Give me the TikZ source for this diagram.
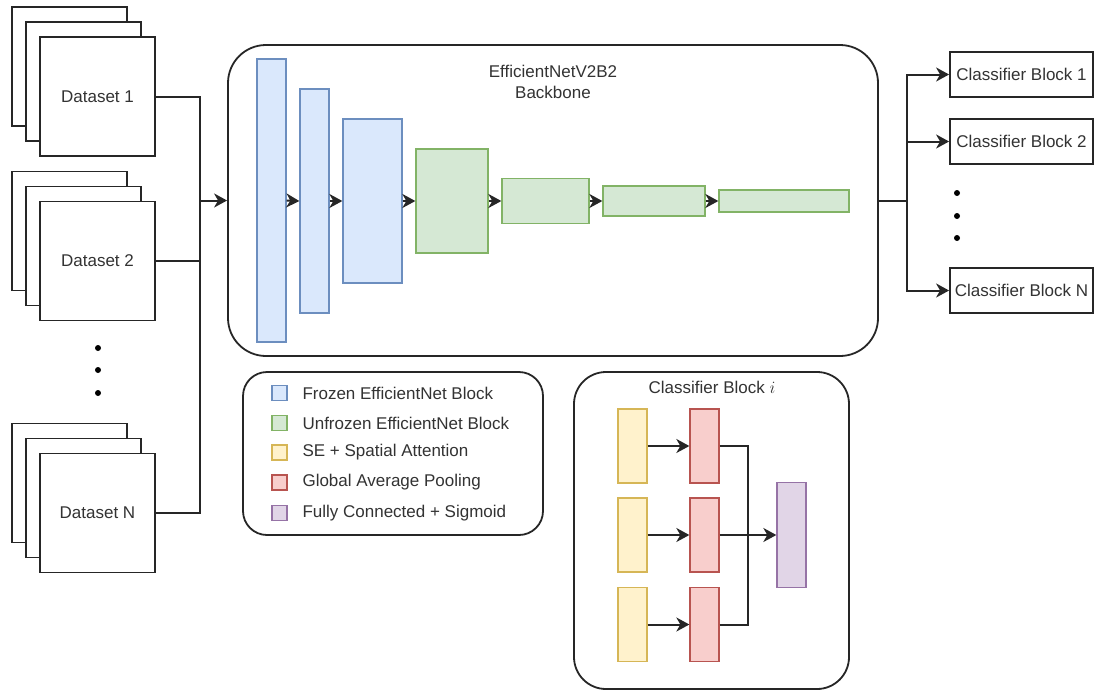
\documentclass[tikz,border=0pt]{standalone}
\usepackage{fontspec}
\setmainfont{Liberation Sans}
\usetikzlibrary{arrows.meta}
\definecolor{ink}{HTML}{262626}
\definecolor{txt}{HTML}{333333}
\definecolor{blueF}{HTML}{DAE8FC}\definecolor{blueD}{HTML}{6C8EBF}
\definecolor{greenF}{HTML}{D5E8D4}\definecolor{greenD}{HTML}{82B366}
\definecolor{yelF}{HTML}{FFF2CC}\definecolor{yelD}{HTML}{D6B656}
\definecolor{redF}{HTML}{F8CECC}\definecolor{redD}{HTML}{B85450}
\definecolor{purF}{HTML}{E1D5E7}\definecolor{purD}{HTML}{9673A6}
\tikzset{
  lbl/.style={text=txt, font=\fontsize{17}{21}\selectfont},
  plain/.style={draw=ink, line width=1.8pt, fill=white, inner sep=0pt, lbl},
  panel/.style={draw=ink, line width=1.8pt, fill=white, inner sep=0pt},
  blk/.style={line width=1.3pt, inner sep=0pt},
  frozen/.style={blk, draw=blueD, fill=blueF},
  unfrozen/.style={blk, draw=greenD, fill=greenF},
  attn/.style={blk, draw=yelD, fill=yelF},
  gap/.style={blk, draw=redD, fill=redF},
  fcs/.style={blk, draw=purD, fill=purF},
  wire/.style={draw=ink, line width=2pt},
  arr/.style={wire, -{Stealth[length=13pt, width=14pt, inset=4pt]}},
  swatch/.style={minimum width=15pt, minimum height=15pt},
  dot/.style={fill=black, circle, inner sep=0pt, minimum size=6pt},
}
% stack of three sheets; the front sheet carries the name and label
\newcommand{\datastack}[3]{%
  \node[plain, minimum width=115pt, minimum height=119pt] at (69.5,#2-30) {};
  \node[plain, minimum width=115pt, minimum height=119pt] at (83.5,#2-15) {};
  \node[plain, minimum width=115pt, minimum height=119pt] (#1) at (97.5,#2) {#3};
}
\begin{document}
\begin{tikzpicture}[x=1pt, y=-1pt]
\useasboundingbox (0,0) rectangle (1094,691);

% input datasets
\datastack{d1}{96.5}{Dataset 1}
\datastack{d2}{261}{Dataset 2}
\datastack{dN}{513}{Dataset N}
\node[dot] (ld1) at (98,348) {};
\node[dot] (ld2) at (98,370) {};
\node[dot] (ld3) at (98,393) {};

% backbone
\node[panel, rounded corners=38pt, minimum width=650pt, minimum height=311pt] (bb) at (553,200.5) {};
\node[lbl, align=center] (bbt) at (553,82) {EfficientNetV2B2\\Backbone};
\node[frozen, minimum width=29pt, minimum height=283pt] (b1) at (271.5,200.5) {};
\node[frozen, minimum width=29pt, minimum height=224pt] (b2) at (314.5,201) {};
\node[frozen, minimum width=59pt, minimum height=164pt] (b3) at (372.5,201) {};
\node[unfrozen, minimum width=72pt, minimum height=104pt] (g1) at (452,201) {};
\node[unfrozen, minimum width=87pt, minimum height=45pt] (g2) at (545.5,201) {};
\node[unfrozen, minimum width=102pt, minimum height=30pt] (g3) at (654,201) {};
\node[unfrozen, minimum width=130pt, minimum height=22pt] (g4) at (784,201) {};
\draw[arr] (b1.east) -- (b2.west);
\draw[arr] (b2.east) -- (b3.west);
\draw[arr] (b3.east) -- (g1.west);
\draw[arr] (g1.east) -- (g2.west);
\draw[arr] (g2.east) -- (g3.west);
\draw[arr] (g3.east) -- (g4.west);

% inputs merge into the backbone
\coordinate (jin) at (200,200.5);
\draw[wire] (d1.east) -| (jin);
\draw[wire] (dN.east) -| (jin);
\draw[wire] (d2.east) -| (jin);
\draw[arr] (jin) -- (bb.west);

% classifier heads
\node[plain, minimum width=143pt, minimum height=45pt] (c1) at (1021.5,74.5) {Classifier Block 1};
\node[plain, minimum width=143pt, minimum height=45pt] (c2) at (1021.5,141.5) {Classifier Block 2};
\node[plain, minimum width=143pt, minimum height=45pt] (cN) at (1021.5,290.5) {Classifier Block N};
\node[dot] (rd1) at (957,193) {};
\node[dot] (rd2) at (957,216) {};
\node[dot] (rd3) at (957,238) {};
\coordinate (jout) at (907,200.5);
\draw[wire] (bb.east) -- (jout);
\draw[arr] (jout) |- (c1.west);
\draw[arr] (jout) |- (c2.west);
\draw[arr] (jout) |- (cN.west);

% legend
\node[panel, rounded corners=24pt, minimum width=300pt, minimum height=163pt] (leg) at (393,453.5) {};
\node[frozen, swatch] (s1) at (279.5,393) {};
\node[unfrozen, swatch] (s2) at (279.5,423) {};
\node[attn, swatch] (s3) at (279.5,452.5) {};
\node[gap, swatch] (s4) at (279.5,482.5) {};
\node[fcs, swatch] (s5) at (279.5,513) {};
\node[lbl, anchor=west] (t1) at (299,393) {Frozen EfficientNet Block};
\node[lbl, anchor=west] (t2) at (299,423) {Unfrozen EfficientNet Block};
\node[lbl, anchor=west] (t3) at (299,452.5) {SE + Spatial Attention};
\node[lbl, anchor=west] (t4) at (299,482.5) {Global Average Pooling};
\node[lbl, anchor=west] (t5) at (299,513) {Fully Connected + Sigmoid};

% inside one classifier block
\node[panel, rounded corners=32pt, minimum width=275pt, minimum height=317pt] (cbi) at (711.5,530.5) {};
\node[lbl] (cbit) at (712,387) {Classifier Block $i$};
\node[attn, minimum width=29pt, minimum height=74pt] (y1) at (632.5,446) {};
\node[attn, minimum width=29pt, minimum height=74pt] (y2) at (632.5,535) {};
\node[attn, minimum width=29pt, minimum height=74pt] (y3) at (632.5,624.5) {};
\node[gap, minimum width=29pt, minimum height=74pt] (r1) at (704.5,446) {};
\node[gap, minimum width=29pt, minimum height=74pt] (r2) at (704.5,535) {};
\node[gap, minimum width=29pt, minimum height=74pt] (r3) at (704.5,624.5) {};
\node[fcs, minimum width=29pt, minimum height=105pt] (p) at (791.5,535) {};
\draw[arr] (y1.east) -- (r1.west);
\draw[arr] (y2.east) -- (r2.west);
\draw[arr] (y3.east) -- (r3.west);
\coordinate (m) at (748,535);
\draw[wire] (r1.east) -| (m);
\draw[wire] (r3.east) -| (m);
\draw[arr] (r2.east) -- (p.west);
\end{tikzpicture}
\end{document}
